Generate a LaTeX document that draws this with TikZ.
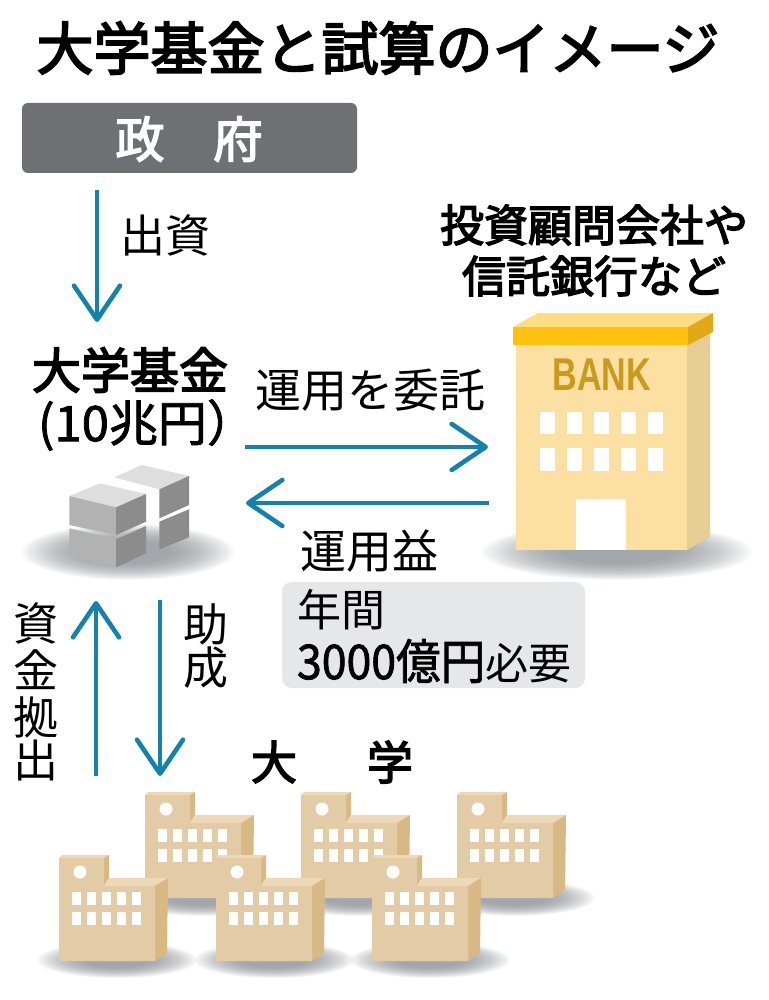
\documentclass[tikz,border=0pt]{standalone}
\usepackage{fontspec}
\usepackage{graphicx}
\setmainfont{Noto Sans CJK JP}
\newfontfamily\latinb{Liberation Sans}
\newfontfamily\jpheavy[FakeBold=3.2]{Noto Sans CJK JP}
\newfontfamily\jpmid[FakeBold=1.6]{Noto Sans CJK JP}
\usetikzlibrary{arrows.meta}
\definecolor{flow}{HTML}{1383AD}
\definecolor{govbox}{HTML}{6F7073}
\definecolor{notebox}{HTML}{E6E7E9}
\definecolor{bankfront}{HTML}{FCE0A2}
\definecolor{bankside}{HTML}{E6CD94}
\definecolor{bankroof}{HTML}{FDC10E}
\definecolor{bankrooftop}{HTML}{FDDC84}
\definecolor{bankroofside}{HTML}{E0A915}
\definecolor{banktext}{HTML}{C99A1C}
\definecolor{schoolfront}{HTML}{E3CBA6}
\definecolor{schoolside}{HTML}{D8B984}
\definecolor{schooltop}{HTML}{EDD9B8}
\definecolor{shadowc}{HTML}{868C94}
\newcommand{\fs}[1]{\fontsize{#1}{#1}\selectfont}
% soft shadow: cx, cy, rx, ry, as a stack of faint ellipses
\newcommand{\softell}[4]{%
  \foreach \sk in {0,...,23}{%
    \pgfmathsetmacro{\sf}{1-\sk*0.026}%
    \fill[shadowc,fill opacity=.05] (#1,#2) ellipse[x radius={#3*\sf},y radius={#4*\sf}];
  }%
}
\tikzset{
  x=1pt,y=-1pt,
  txt/.style={inner sep=0pt,outer sep=0pt,text=black,align=center},
  flowarrow/.style={draw=flow,line width=4.6pt,-{Straight Barb[length=34pt,width=46pt,line width=4.6pt,round]}},
  winw/.style={fill=white,draw=none},
  moneyl/.style={fill=black!30,draw=none},
  moneyr/.style={fill=black!45,draw=none},
  moneyt/.style={fill=black!13,draw=none},
  school/.pic={
    \fill[schooltop] (0,0) -- (3,-3) -- (50,-3) -- (45,0) -- cycle;
    \fill[schoolside] (45,0) -- (50,-3) -- (50,20) -- (45,28) -- cycle;
    \fill[schooltop] (45,28) -- (50,20) -- (109,20) -- (96,28) -- cycle;
    \fill[schoolside] (96,28) -- (109,20) -- (108,95) -- (96,103) -- cycle;
    \fill[schoolfront] (0,0) -- (45,0) -- (45,28) -- (96,28) -- (96,103) -- (0,103) -- cycle;
    \fill[white] (21,14) circle[radius=6.5pt];
    \foreach \wx in {13,28,43,58,73}{
      \fill[winw] (\wx,34) rectangle +(8.5,13);
      \fill[winw] (\wx,54) rectangle +(8.5,13);
    }
  }
}
\begin{document}
\begin{tikzpicture}
\path[use as bounding box,fill=white] (0,0) rectangle (768,1000);

% title
\node[txt,font=\jpheavy\fs{57}] (title) at (378,48) {大学基金と試算のイメージ};

% government
\node[fill=govbox,rounded corners=6pt,minimum width=335pt,minimum height=70pt,inner sep=0pt] (gov) at (189.5,138) {};
\node[txt,font=\jpheavy\fs{49},text=white] (gov1) at (140,139) {政};
\node[txt,font=\jpheavy\fs{49},text=white] (gov2) at (238,139) {府};

% bank shadow and building
\softell{617}{552}{135}{28}
\fill[bankside] (687,345) -- (710,332) -- (710,537) -- (687,550) -- cycle;
\fill[bankfront] (516,345) rectangle (687,550);
\fill[bankrooftop] (513,327) -- (538,313) -- (713,313) -- (688,327) -- cycle;
\fill[bankroof] (513,327) rectangle (688,345);
\fill[bankroofside] (688,327) -- (713,313) -- (713,332) -- (688,345) -- cycle;
\node[txt,text=banktext,font=\latinb\fs{46}\bfseries,xscale=.74] (banklabel) at (602,375) {BANK};
\foreach \wx in {540,567,594,621,648}{
  \fill[winw] (\wx,412) rectangle +(14.5,22);
  \fill[winw] (\wx,448) rectangle +(14.5,23);
}
\fill[white] (576,499) rectangle (626,550);

% money shadow and stack
\softell{128}{552}{106}{28}
\begin{scope}[shift={(20,450)},scale=1/3]
  \fill[moneyt] (283,82) -- (365,45) -- (507,78) -- (418,118) -- cycle;
  \fill[moneyr] (418,118) -- (507,78) -- (507,165) -- (418,205) -- cycle;
  \fill[moneyr] (418,215) -- (507,178) -- (507,262) -- (418,298) -- cycle;
  \fill[moneyt] (148,138) -- (240,100) -- (378,132) -- (288,172) -- cycle;
  \fill[moneyl] (148,138) -- (288,172) -- (288,255) -- (148,225) -- cycle;
  \fill[moneyr] (288,172) -- (378,132) -- (378,215) -- (288,255) -- cycle;
  \fill[moneyl] (148,235) -- (288,268) -- (288,352) -- (148,318) -- cycle;
  \fill[moneyr] (288,268) -- (378,228) -- (378,310) -- (288,352) -- cycle;
\end{scope}

% labels
\node[txt,font=\jpheavy\fs{44}] (firm1) at (594,225) {投資顧問会社や};
\node[txt,font=\jpheavy\fs{44}] (firm2) at (594,276) {信託銀行など};
\node[txt,font=\fs{45}] (lshusshi) at (165,235) {出資};
\node[txt,font=\jpheavy\fs{49}] (fund1) at (130,370) {大学基金};
\node[txt,anchor=west,font=\jpmid\fs{49}] (fund2) at (38,425) {(10兆円）};
\node[txt,font=\fs{46}] (litaku) at (370,390) {運用を委託};
\node[txt,font=\fs{46}] (lyield) at (369,551) {運用益};

% note box
\node[fill=notebox,rounded corners=10pt,minimum width=303pt,minimum height=106pt,inner sep=0pt] (note) at (433.5,635) {};
\node[txt,anchor=west,font=\fs{44}] (note1) at (297,610) {年間};
\node[txt,anchor=west,font=\jpmid\fs{48}] (note2) at (297,661) {\scalebox{.93}[1]{3000億円}{\normalfont\fs{43}必要}};

% vertical labels
\node[txt,text width=50pt] (lkyo) at (36,692) {\fontsize{45}{47}\selectfont 資\\金\\拠\\出};
\node[txt,text width=50pt] (ljosei) at (206,646) {\fontsize{45}{50}\selectfont 助\\成};
\node[txt,font=\jpheavy\fs{46}] (univ1) at (274,762) {大};
\node[txt,font=\jpheavy\fs{46}] (univ2) at (390,762) {学};

% arrows
\coordinate (a1s) at (97,190); \coordinate (a1e) at (97,322);
\coordinate (a2s) at (245,447); \coordinate (a2e) at (488,447);
\coordinate (a3s) at (489,503); \coordinate (a3e) at (246,503);
\coordinate (a4s) at (96,776); \coordinate (a4e) at (96,601);
\coordinate (a5s) at (160,600); \coordinate (a5e) at (160,776);
\draw[flowarrow] (a1s) -- (a1e);
\draw[flowarrow] (a2s) -- (a2e);
\draw[flowarrow] (a3s) -- (a3e);
\draw[flowarrow] (a4s) -- (a4e);
\draw[flowarrow] (a5s) -- (a5e);

% schools, back row
\softell{203}{898}{80}{18}
\softell{359}{898}{80}{18}
\softell{515}{898}{80}{18}
\foreach \sx in {145,301,457}{
  \pic at (\sx,795) {school};
}
% schools, front row
\softell{117}{960}{80}{18}
\softell{274}{960}{80}{18}
\softell{430}{960}{80}{18}
\foreach \sx in {59,216,372}{
  \pic at (\sx,858) {school};
}
\end{tikzpicture}
\end{document}
